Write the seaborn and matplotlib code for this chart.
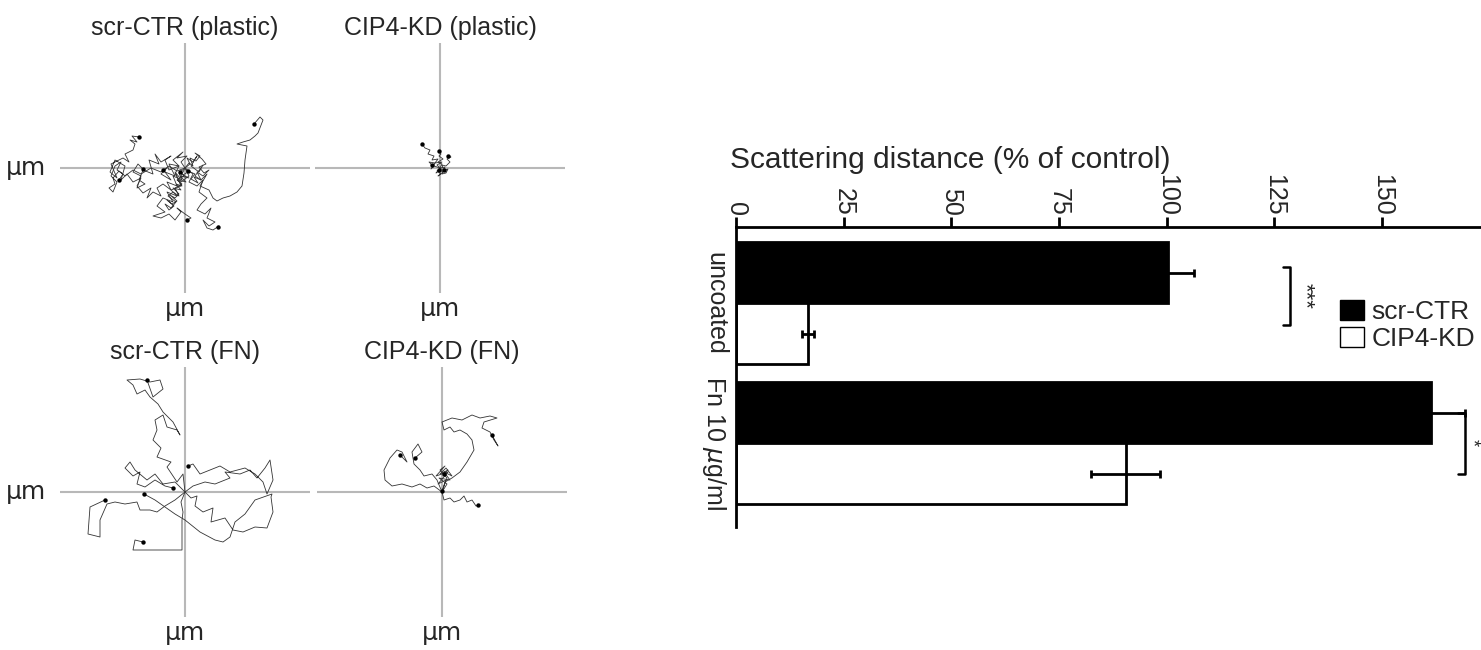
import numpy as np
import pandas as pd
import seaborn as sns
import matplotlib.pyplot as plt
from matplotlib.patches import Patch

sns.set_theme(style="white")
plt.rcParams['font.family'] = ['Liberation Sans', 'DejaVu Sans']

# cell tracks (um, relative to start point), one list per cell
SCR_PLASTIC_X = [
    [0, 5, 2, 8, 12, 6, 14, 18, 10, 16, 22, 15, 24, 28, 32, 38, 45, 52, 57, 59, 60, 61, 62, 52, 58, 65, 70, 73, 78, 75, 69],
    [0, -6, -3, -12, -8, -18, -14, -22, -28, -24, -32, -38, -34, -42, -48, -44, -52, -58, -64, -60, -70, -75, -68, -74, -62, -56, -60, -52, -50, -55, -48, -53, -46],
    [0, 4, -4, -10, -6, -16, -20, -14, -24, -30, -26, -36, -32, -42, -46, -40, -48, -44, -52, -47, -42],
    [0, -4, 2, -8, -2, -12, -6, -16, -10, -20, -14, -24, -18, -22],
    [0, -5, -10, -4, -14, -8, -18, -12, -22, -28, -20, -32, -24, -16, -10, -4, -8, 0, 6, 2],
    [0, 8, 4, 12, 18, 14, 22, 16, 12, 20, 26, 22, 30, 24, 18, 22, 28, 34, 33],
    [0, 3, -2, 4, -5, 1, -7, -3, -9, -4, -12, -6, -10, -15, -8, -13, -18, -11, -16, -20, -14, -9, -17, -12, -6, -10, -3, -8, -1, -5],
    [0, 4, 8, 5, 11, 15, 10, 17, 21, 14, 19, 24, 18, 12, 16, 9, 13, 6, 10, 3],
    [0, -8, -16, -24, -34, -44, -52, -60, -66, -72, -70, -76, -72, -68, -74, -70, -64, -68, -62, -66],
]
SCR_PLASTIC_Y = [
    [0, 4, 10, 6, 12, 2, -4, 3, -8, -12, -6, -18, -22, -30, -33, -30, -28, -24, -18, -5, 8, 15, 22, 24, 26, 28, 32, 35, 48, 51, 44],
    [0, -5, -12, -8, -18, -14, -22, -16, -20, -28, -24, -30, -20, -25, -18, -10, -14, -6, -12, 2, 8, -4, -10, 4, 10, 6, 14, 18, 24, 28, 26, 32, 31],
    [0, -8, -14, -6, 2, -2, 8, 12, 6, 14, 4, 8, -6, -2, -12, -16, -20, -8, -4, 4, -1],
    [0, 6, 12, 10, 16, 8, 2, 4, -8, -4, -12, -6, 0, -2],
    [0, -10, -4, -18, -22, -28, -24, -34, -30, -38, -44, -48, -50, -46, -52, -44, -40, -46, -50, -52],
    [0, -6, -14, -18, -12, -24, -30, -36, -42, -46, -40, -50, -54, -58, -52, -60, -62, -58, -59],
    [0, -4, -7, -10, -8, -14, -12, -18, -16, -22, -20, -26, -30, -27, -33, -36, -32, -38, -42, -36, -40, -34, -28, -24, -28, -20, -16, -12, -8, -4],
    [0, 5, 2, 10, 7, 12, 15, 9, 4, 1, -5, -2, -8, -4, -12, -9, -15, -11, -6, -3],
    [0, -3, 2, -4, 0, -6, -2, -8, -3, -10, -16, -20, -24, -14, -8, 2, 6, -2, -6, -12],
]

CIP4_PLASTIC_X = [
    [0, -3, 2, -5, -2, -8, -6, -12, -10, -15, -18],
    [0, 2, -2, 3, -1, 1, -1],
    [0, 4, 2, 6, 10, 7, 11, 8],
    [0, -3, 1, -2, 3, 0, -4, -1],
    [0, 5, 3, 8, 6, 2, 4],
    [0, -6, -9, -5, -11, -8],
]
CIP4_PLASTIC_Y = [
    [0, 3, 6, 5, 9, 8, 12, 14, 18, 20, 24],
    [0, 4, 6, 9, 12, 14, 17],
    [0, -3, 3, 2, 6, 9, 11, 12],
    [0, -3, -6, -8, -4, -2, -5, -2],
    [0, 1, -3, -1, -5, -6, -2],
    [0, 2, -1, 5, 6, 3],
]

SCR_FN_X = [
    [0, -2, -8, -18, -14, -28, -24, -32, -28, -30, -22, -18, -8, -5, -12, -22, -27, -35, -40, -48, -52, -58, -45, -35, -25, -22, -32, -38],
    [0, 8, 20, 30, 45, 40, 55, 65, 72, 80, 85, 88, 82, 78, 70, 60, 45, 35, 25, 15, 8, 3],
    [0, 6, 12, 10, 18, 28, 26, 40, 48, 58, 70, 82, 88, 86, 87, 70, 60, 50, 45, 38, 30, 15, 0, -10, -20, -30, -41],
    [0, -10, -20, -28, -35, -45, -48, -60, -70, -78, -85, -85, -97, -95, -80],
    [0, -4, -2, -3, -3, -20, -35, -52, -50, -42],
    [0, -10, -22, -30, -38, -50, -55, -60, -52, -45, -48, -40, -30, -20, -12],
]
SCR_FN_Y = [
    [0, 18, 10, 25, 30, 35, 44, 52, 62, 72, 77, 65, 62, 57, 70, 80, 88, 95, 102, 98, 107, 112, 113, 110, 112, 103, 95, 112],
    [0, 6, 10, 8, 14, 20, 18, 22, 14, 24, 32, 12, -2, 10, 18, 24, 20, 26, 22, 18, 28, 26],
    [0, -6, -4, -14, -20, -16, -30, -26, -38, -40, -35, -36, -20, -5, -2, -8, -22, -30, -45, -50, -48, -40, -28, -22, -15, -8, -2],
    [0, -8, -14, -20, -18, -18, -10, -12, -10, -12, -28, -45, -42, -15, -8],
    [0, -10, -20, -28, -58, -58, -58, -58, -48, -50],
    [0, 10, 8, 18, 12, 22, 30, 24, 16, 20, 8, 5, 12, 6, 4],
]

CIP4_FN_X = [
    [0, 3, 10, 18, 25, 32, 30, 25, 18, 12, 8, 2, 0, 10, 20, 30, 38, 48, 55, 42, 40, 48, 52, 56, 50],
    [0, 2, 8, 12, 18, 22, 25, 30, 34, 36],
    [0, -8, -15, -22, -30, -40, -50, -57, -58, -52, -45, -40, -35, -42],
    [0, -5, -10, -18, -22, -28, -30, -24, -20, -27],
    [0, 5, -3, 8, 2, 10, 4, -2, 6, 2],
    [0, 4, -4, 6, -6, 3, -2, 5, 0],
]
CIP4_FN_Y = [
    [0, 10, 14, 20, 30, 42, 52, 58, 62, 60, 65, 62, 70, 74, 72, 77, 74, 76, 74, 70, 64, 60, 52, 46, 57],
    [0, -8, -6, -10, -8, -4, -10, -8, -14, -13],
    [0, 6, 4, 8, 5, 8, 6, 12, 22, 34, 42, 40, 30, 37],
    [0, 12, 18, 16, 22, 28, 40, 48, 40, 34],
    [0, 8, 14, 12, 20, 16, 24, 18, 22, 18],
    [0, 12, 8, 20, 16, 26, 22, 14, 1],
]

# scattering distance bar chart
conditions = ["uncoated", "uncoated", r"Fn 10 $\mu$g/ml", r"Fn 10 $\mu$g/ml"]
groups = ["scr-CTR", "CIP4-KD", "scr-CTR", "CIP4-KD"]
distance = [100.3, 16.7, 161.4, 90.5]
sem = [6.0, 1.4, 8.0, 8.0]
ticks = [0, 25, 50, 75, 100, 125, 150]

W, H = 1481, 650
fig = plt.figure(figsize=(W / 100, H / 100), dpi=100)


def px_axes(x0, y0, w, h):
    return fig.add_axes([x0 / W, 1 - (y0 + h) / H, w / W, h / H])


def tracks_frame(xs, ys):
    rows = []
    for cell, (tx, ty) in enumerate(zip(xs, ys)):
        for step, (x, y) in enumerate(zip(tx, ty)):
            rows.append((cell, step, x, y))
    return pd.DataFrame(rows, columns=["cell", "step", "x", "y"])


def plot_tracks(ax, xs, ys, title, ylabel=True):
    df = tracks_frame(xs, ys)
    ax.axhline(0, color="#b8b8b8", lw=1.5, zorder=0)
    ax.axvline(0, color="#b8b8b8", lw=1.5, zorder=0)
    sns.lineplot(data=df, x="x", y="y", units="cell", estimator=None, sort=False,
                 color="#333333", lw=0.6, ax=ax)
    ends = df.groupby("cell").tail(1)
    sns.scatterplot(data=ends, x="x", y="y", color="black", s=10, linewidth=0, ax=ax, zorder=5)
    ax.set_xlim(-125, 125)
    ax.set_ylim(-125, 125)
    ax.set_xticks([])
    ax.set_yticks([])
    for s in ax.spines.values():
        s.set_visible(False)
    ax.set_title(title, fontsize=18, pad=6)
    ax.set_xlabel("\u00b5m", fontsize=18, labelpad=3, family=["DejaVu Sans"])
    if ylabel:
        ax.set_ylabel("\u00b5m", fontsize=18, rotation=0, ha="right", va="center",
                      labelpad=10, family=["DejaVu Sans"])
    else:
        ax.set_ylabel("")


ax1 = px_axes(60, 43, 250, 250)
plot_tracks(ax1, SCR_PLASTIC_X, SCR_PLASTIC_Y, "scr-CTR (plastic)")
ax2 = px_axes(315, 43, 250, 250)
plot_tracks(ax2, CIP4_PLASTIC_X, CIP4_PLASTIC_Y, "CIP4-KD (plastic)", ylabel=False)
ax3 = px_axes(60, 367, 250, 250)
plot_tracks(ax3, SCR_FN_X, SCR_FN_Y, "scr-CTR (FN)")
ax4 = px_axes(317, 367, 250, 250)
plot_tracks(ax4, CIP4_FN_X, CIP4_FN_Y, "CIP4-KD (FN)", ylabel=False)

# bar chart
axb = px_axes(736, 227, 745, 300)
bars = pd.DataFrame({"condition": conditions, "group": groups, "distance": distance, "sem": sem})
sns.barplot(data=bars, x="distance", y="condition", hue="group", orient="h",
            palette=["black", "white"], saturation=1, edgecolor="black", linewidth=2,
            width=0.87, errorbar=None, legend=False, ax=axb)

centres = {}
for cont, lvl in zip(axb.containers, ["scr-CTR", "CIP4-KD"]):
    sub = bars[bars.group == lvl].reset_index(drop=True)
    for i, bar in enumerate(cont):
        yc = bar.get_y() + bar.get_height() / 2
        centres[(i, lvl)] = yc
        axb.errorbar(bar.get_width(), yc, xerr=sub.loc[i, "sem"], fmt="none",
                     ecolor="black", elinewidth=2, capsize=3, capthick=2, zorder=4)

axb.set_xlim(0, 173)
axb.set_ylim(1.596, -0.543)
axb.xaxis.tick_top()
axb.set_xticks(ticks)
axb.set_xticklabels([str(t) for t in ticks], rotation=-90, fontsize=18)
axb.tick_params(axis="x", direction="out", length=7, width=2, pad=1, color="black", top=True, bottom=False)
axb.tick_params(axis="y", length=0, pad=6)
for lab in axb.get_yticklabels():
    lab.set_rotation(-90)
    lab.set_fontsize(18)
    lab.set_va("center")
axb.set_xlabel("")
axb.set_ylabel("")
for side in ["right", "bottom"]:
    axb.spines[side].set_visible(False)
for side in ["left", "top"]:
    axb.spines[side].set_color("black")
    axb.spines[side].set_linewidth(2)

fig.text(950 / W, 1 - 160 / H, "Scattering distance (% of control)", fontsize=21.5,
         ha="center", va="center")


# significance brackets
def bracket(ax, x, y0, y1):
    ax.plot([x - 1.5, x, x, x - 1.5], [y0, y0, y1, y1], color="black", lw=1.8, clip_on=False)


bracket(axb, 128.6, centres[(0, "scr-CTR")] - 0.04, centres[(0, "CIP4-KD")] - 0.06)
axb.text(129.8, (centres[(0, "scr-CTR")] + centres[(0, "CIP4-KD")]) / 2 - 0.05, "***",
         rotation=-90, ha="left", va="center", fontsize=16)
bracket(axb, 169.2, centres[(1, "scr-CTR")], centres[(1, "CIP4-KD")])
fig.text(1480 / W, 1 - 443 / H, "*", rotation=-90, ha="right", va="center", fontsize=13)

handles = [Patch(facecolor="black", edgecolor="black", lw=1),
           Patch(facecolor="white", edgecolor="black", lw=1)]
fig.legend(handles, ["scr-CTR", "CIP4-KD"], loc="upper left",
           bbox_to_anchor=(1340 / W, 1 - 300 / H), frameon=False, fontsize=19,
           handlelength=0.9, handleheight=0.8, handletextpad=0.3, labelspacing=0.1,
           borderpad=0, borderaxespad=0)

fig.savefig("out.png", dpi=100)
